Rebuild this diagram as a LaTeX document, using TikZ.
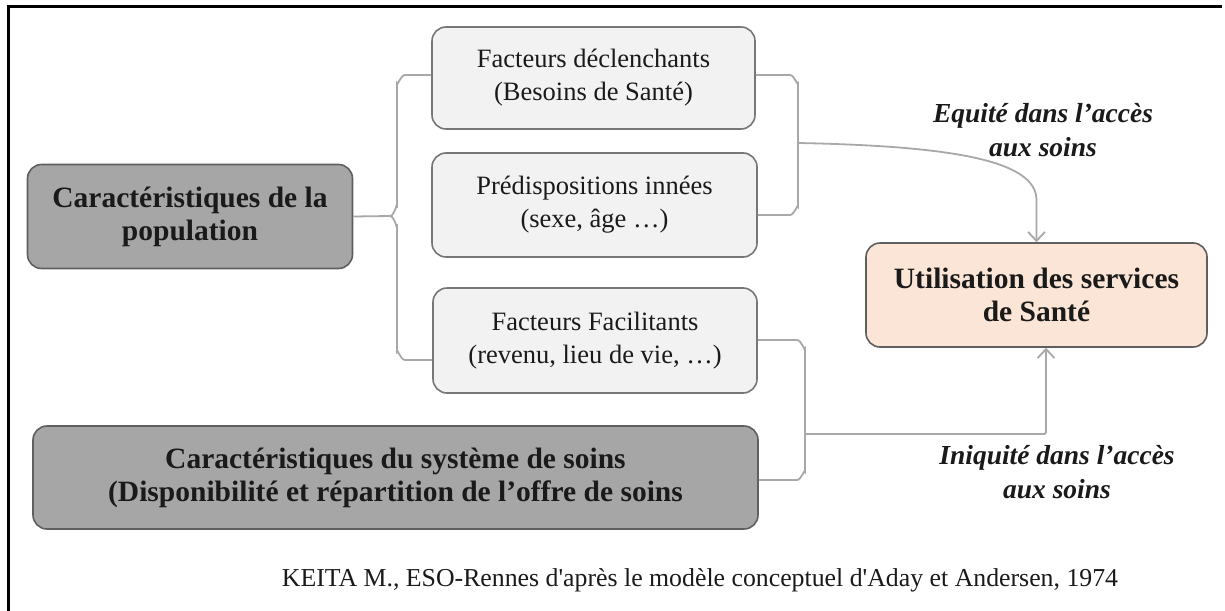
\documentclass[tikz,border=0pt]{standalone}
\usepackage{fontspec}
\setmainfont{Liberation Serif}
\usetikzlibrary{arrows.meta,calc}
\definecolor{darkbox}{HTML}{A6A6A6}
\definecolor{lightbox}{HTML}{F2F2F2}
\definecolor{peach}{HTML}{FBE5D6}
\definecolor{edge}{HTML}{5F5F5F}
\definecolor{conn}{HTML}{A8A8A8}
\definecolor{ink}{HTML}{1A1A1A}
\tikzset{
  boxbase/.style={rectangle, rounded corners=14pt, line width=1.6pt, draw=edge, align=center, text=ink, inner sep=0pt},
  darkb/.style={boxbase, fill=darkbox, font=\bfseries\fontsize{29.5}{33}\selectfont},
  lightb/.style={boxbase, fill=lightbox, draw=edge!85, font=\fontsize{26.5}{33}\selectfont},
  peachb/.style={boxbase, fill=peach, font=\bfseries\fontsize{29.5}{33}\selectfont},
  connline/.style={draw=conn, line width=1.8pt},
  tip/.style={-{Straight Barb[length=9pt,width=17pt,line width=1.8pt]}},
  lab/.style={align=center, text=ink, font=\bfseries\itshape\fontsize{27.5}{34}\selectfont},
}
\begin{document}
\begin{tikzpicture}[x=1pt,y=-1pt]
\useasboundingbox (0,0) rectangle (1225,610);
\fill[white] (0,0) rectangle (1225,610);
% frame
\draw[line width=2.4pt, black] (8.5,700) -- (8.5,6.5) -- (1222,6.5);

% nodes
\node[darkb, minimum width=325pt, minimum height=104pt] (pop) at (190,216.5) {Caractéristiques de la\\population};
\node[lightb, minimum width=323pt, minimum height=102pt] (fd) at (593.5,78) {Facteurs déclenchants\\(Besoins de Santé)};
\node[lightb, minimum width=325pt, minimum height=104pt] (pi) at (594.5,205) {Prédispositions innées\\(sexe, âge …)};
\node[lightb, minimum width=324pt, minimum height=105pt] (ff) at (595,340.5) {Facteurs Facilitants\\(revenu, lieu de vie, …)};
\node[darkb, minimum width=725pt, minimum height=103pt] (sys) at (395.5,477.5) {Caractéristiques du système de soins\\(Disponibilité et répartition de l’offre de soins};
\node[peachb, minimum width=341pt, minimum height=104pt] (util) at (1036.5,295) {Utilisation des services\\de Santé};

% labels
\node[lab] (eq) at (1043,130) {Equité dans l’accès\\aux soins};
\node[lab] (iniq) at (1057,472) {Iniquité dans l’accès\\aux soins};
\node[text=ink, font=\fontsize{25.8}{30}\selectfont] (cap) at (700,580) {KEITA M., ESO-Rennes d\textquotesingle après le modèle conceptuel d\textquotesingle Aday et Andersen, 1974};

% coordinates
\coordinate (lcusp) at (390,216);
\coordinate (rmid) at (798,143);
\coordinate (bmid) at (805,434);

% left brace
\draw[connline] ($(fd.west)+(0,-3)$) -- (405,75) to[out=180,in=-90] (397,83) -- (397,206) to[out=90,in=0] (lcusp);
\draw[connline] (lcusp) to[out=0,in=-90] (397,226) -- (397,352) to[out=90,in=180] (405,360) -- ($(ff.west)+(0,19.5)$);
\draw[connline] (pop.east) -- (lcusp);

% right brace (top)
\draw[connline] ($(fd.east)+(0,-3)$) -- (790,75) to[out=0,in=-90] (798,83) -- (798,207) to[out=90,in=0] (790,215) -- ($(pi.east)+(0,10)$);
\draw[connline, tip] (rmid) .. controls (950,146) and (1036.5,160) .. (1036.5,200) -- (util.north);

% right brace (bottom)
\draw[connline] ($(ff.east)+(0,-0.5)$) -- (797,340) to[out=0,in=-90] (805,348) -- (805,472) to[out=90,in=0] (797,480) -- ($(sys.east)+(0,2.5)$);
\draw[connline, tip, rounded corners=2pt] (bmid) -- (1046,434) -- ($(util.south)+(9.5,0)$);
\end{tikzpicture}
\end{document}
